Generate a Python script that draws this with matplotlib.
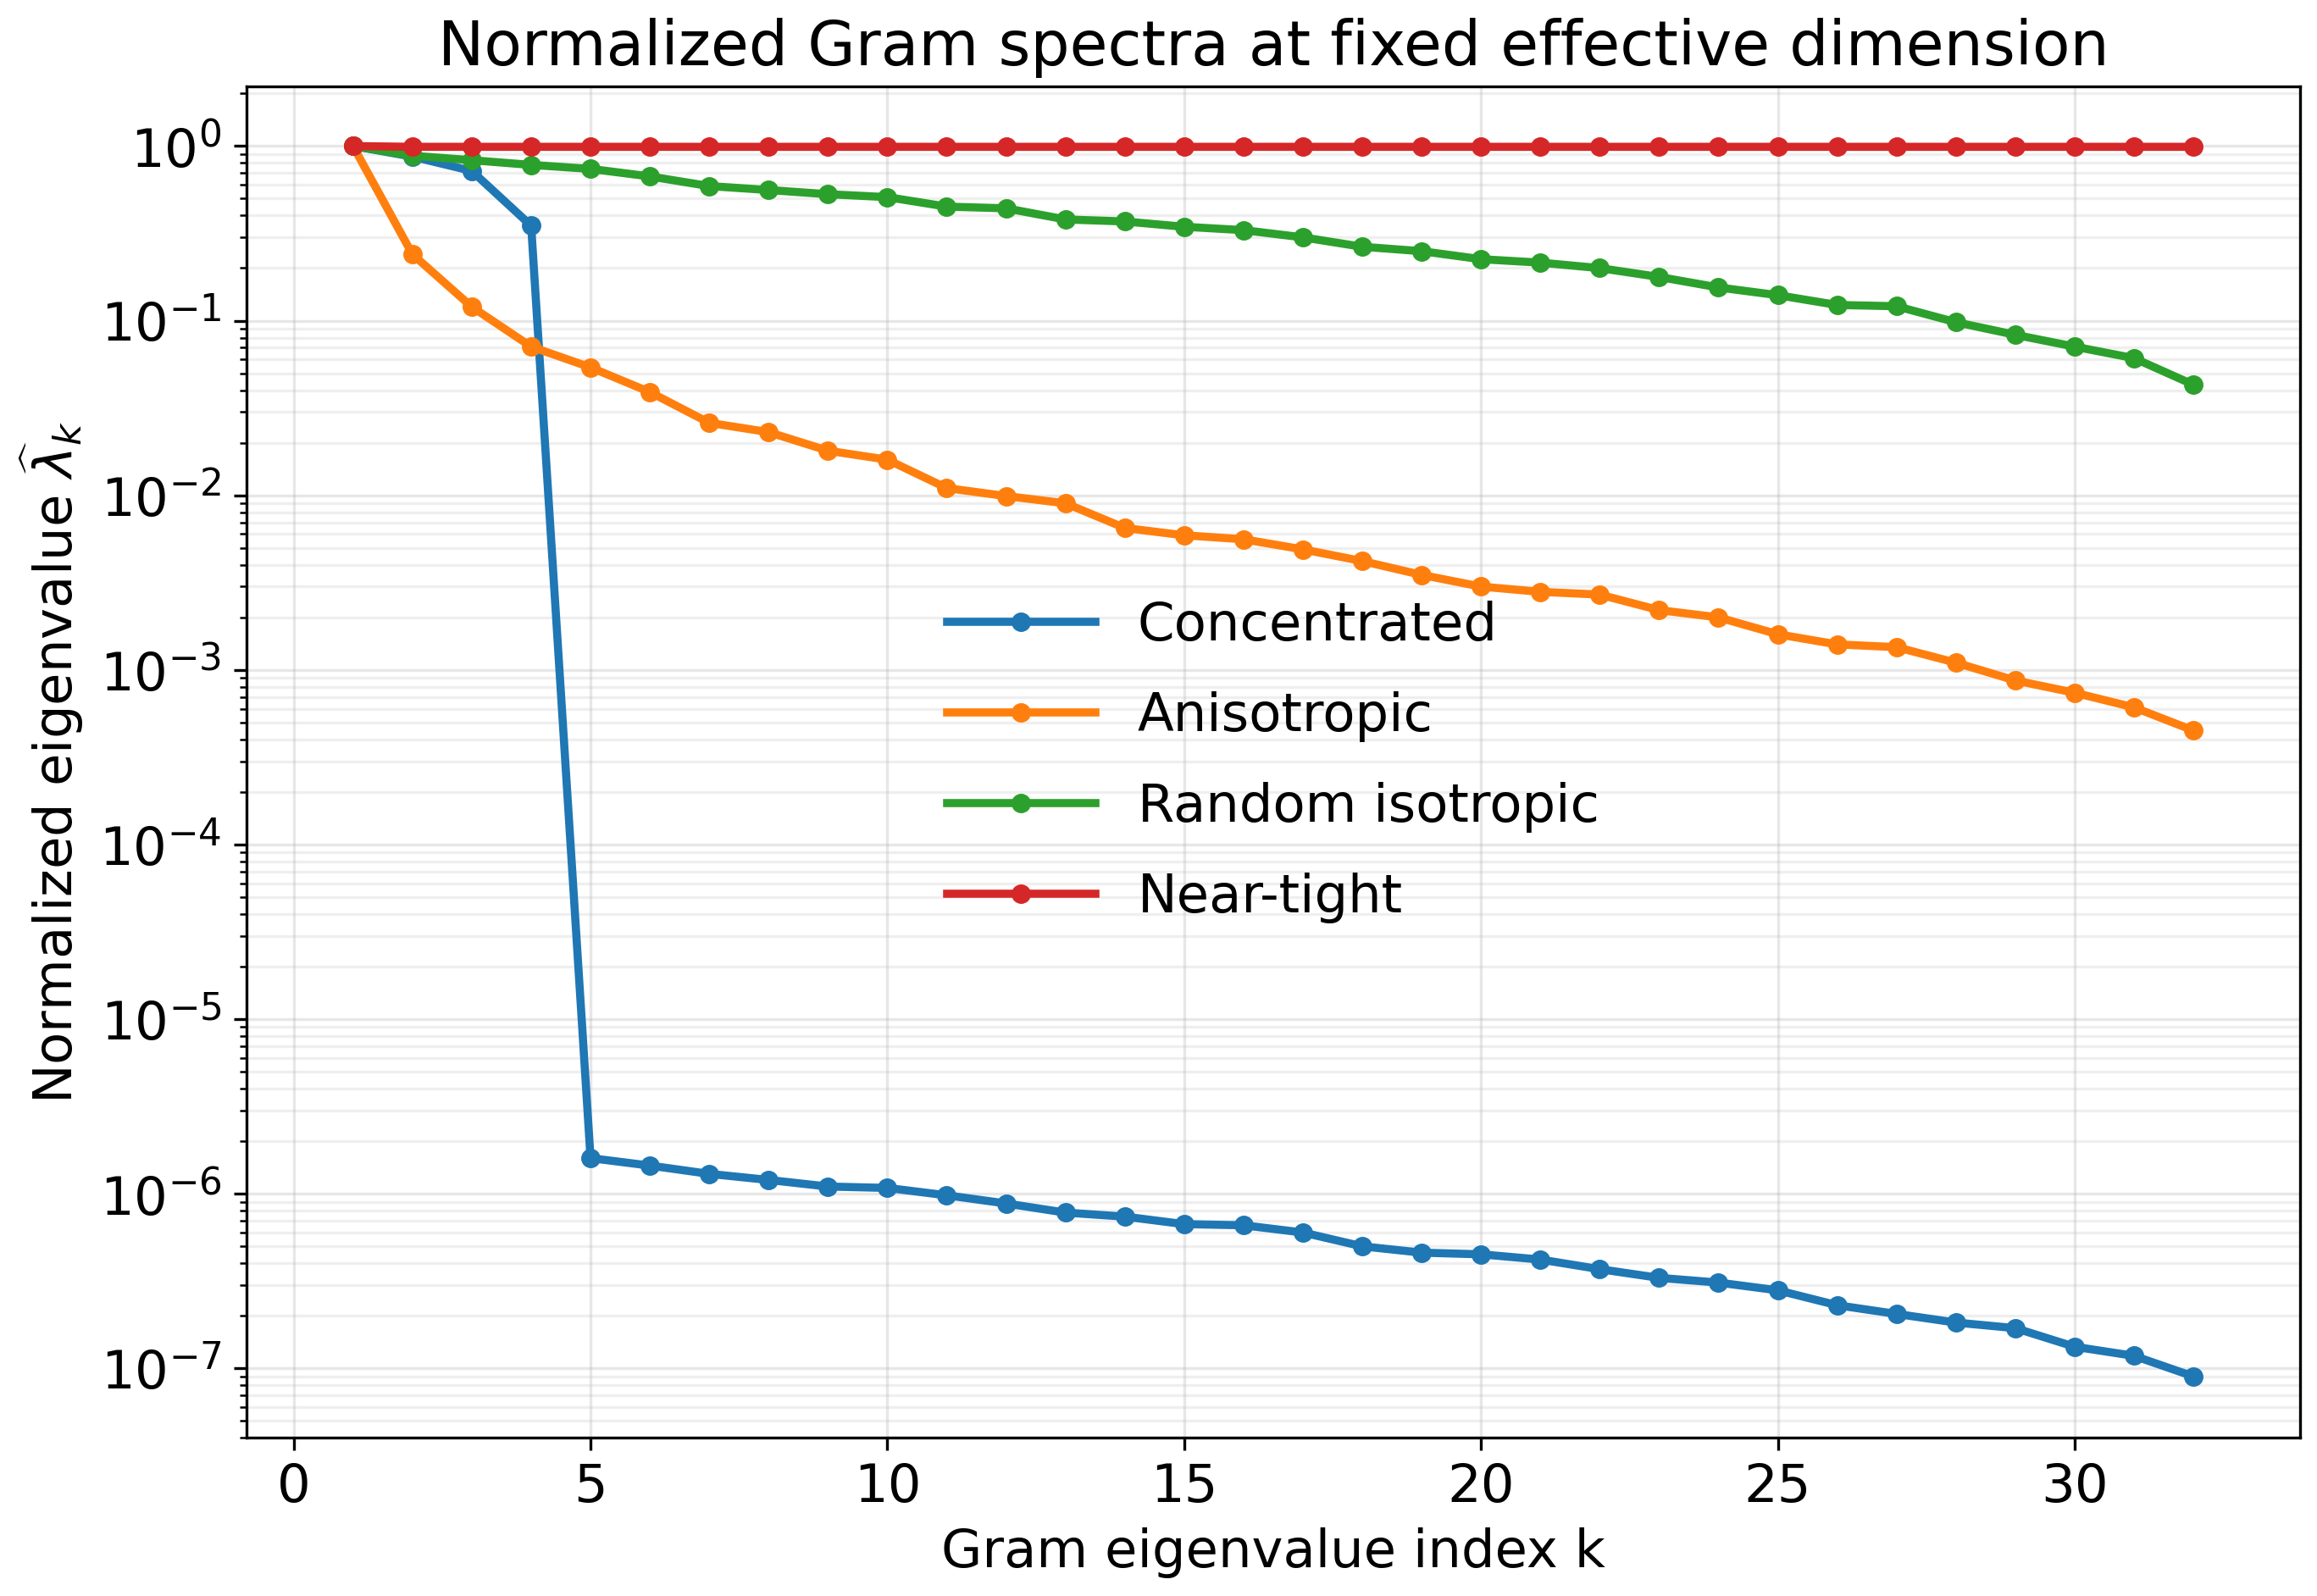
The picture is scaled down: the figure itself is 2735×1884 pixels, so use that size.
import numpy as np
import matplotlib.pyplot as plt

k = np.arange(1, 33)

concentrated = [1.0, 0.87, 0.72, 0.35, 1.6e-6, 1.45e-6, 1.3e-6, 1.2e-6, 1.1e-6, 1.08e-6,
                0.98e-6, 0.88e-6, 0.78e-6, 0.74e-6, 0.67e-6, 0.66e-6, 0.6e-6, 0.5e-6,
                0.46e-6, 0.45e-6, 0.42e-6, 0.37e-6, 0.33e-6, 0.31e-6, 0.28e-6, 0.23e-6,
                0.205e-6, 0.183e-6, 0.17e-6, 0.133e-6, 0.118e-6, 0.09e-6]
anisotropic = [1.0, 0.24, 0.12, 0.071, 0.054, 0.039, 0.026, 0.023, 0.018, 0.016, 0.011,
               0.0099, 0.0090, 0.0065, 0.0059, 0.0056, 0.0049, 0.0042, 0.0035, 0.0030,
               0.0028, 0.0027, 0.0022, 0.0020, 0.0016, 0.0014, 0.00135, 0.0011,
               0.00087, 0.00074, 0.00061, 0.00045]
random_iso = [1.0, 0.88, 0.83, 0.78, 0.74, 0.67, 0.59, 0.56, 0.53, 0.51, 0.45, 0.44, 0.38,
              0.37, 0.345, 0.33, 0.30, 0.265, 0.25, 0.225, 0.215, 0.20, 0.178, 0.155, 0.14,
              0.123, 0.121, 0.098, 0.083, 0.071, 0.061, 0.043]
near_tight = [1.0] + [0.99] * 31

series = [("Concentrated", concentrated), ("Anisotropic", anisotropic),
          ("Random isotropic", random_iso), ("Near-tight", near_tight)]

fig, ax = plt.subplots(figsize=(9.12, 6.28), dpi=300)
for name, vals in series:
    ax.plot(k, vals, marker="o", markersize=4.5, linewidth=2.3, label=name)

ax.set_yscale("log")
ax.set_ylim(4e-8, 2.2)
ax.set_xlim(-0.8, 33.8)
ax.grid(True, which="major", alpha=0.3)
ax.grid(True, which="minor", axis="y", alpha=0.2)
ax.set_xlabel("Gram eigenvalue index k", fontsize=15)
ax.set_ylabel(r"Normalized eigenvalue $\widehat{\lambda}_k$", fontsize=15)
ax.set_title("Normalized Gram spectra at fixed effective dimension", fontsize=17.5)
ax.tick_params(labelsize=15)
ax.legend(frameon=False, fontsize=15, loc="center", bbox_to_anchor=(0.5, 0.5),
          labelspacing=0.75, handlelength=2.8)
fig.tight_layout(pad=0.5)
fig.savefig("out.png")
